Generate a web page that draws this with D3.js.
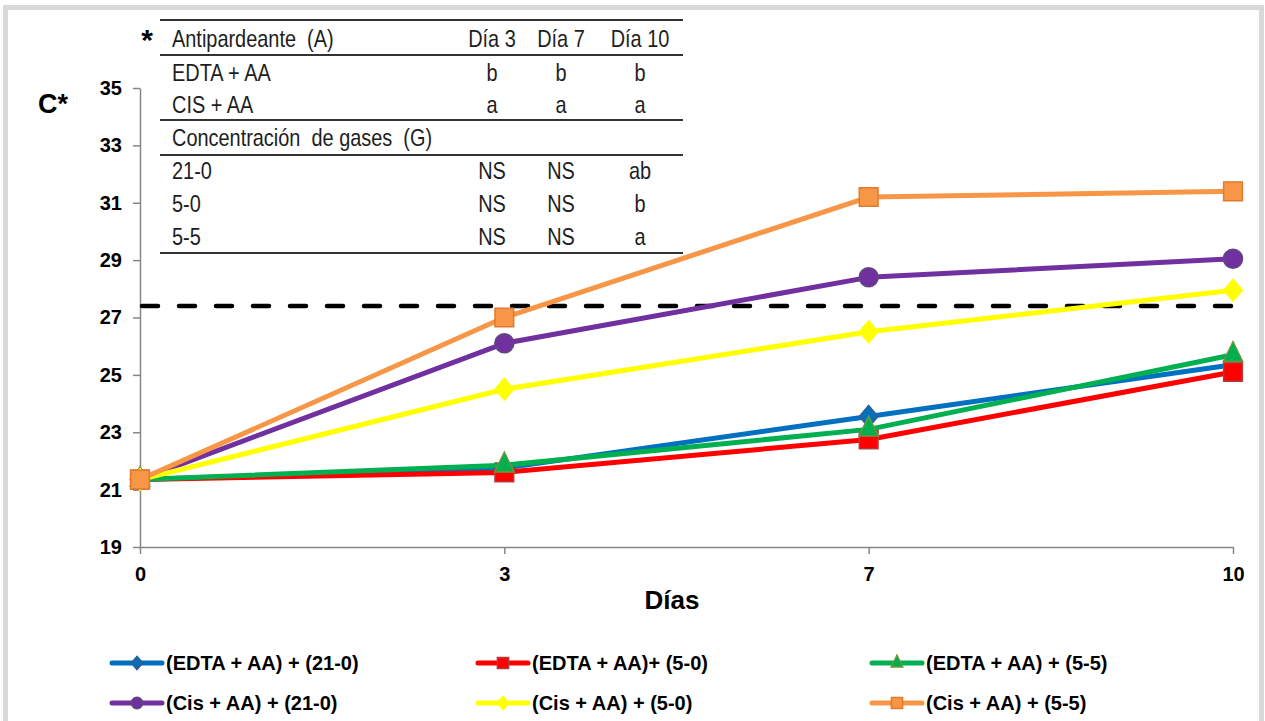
<!DOCTYPE html>
<html>
<head>
<meta charset="utf-8">
<script src="https://cdn.jsdelivr.net/npm/d3@7"></script>
<style>
  body { margin: 0; background: #fff; }
  svg { display: block; font-family: Arial, "Liberation Sans", sans-serif; }
</style>
</head>
<body>
<div id="chart"></div>
<script>
// categories (x axis) and y ticks
const days = ['0', '3', '7', '10'];
const yTicks = [19, 21, 23, 25, 27, 29, 31, 33, 35];
const refLine = 27.4;

// series values
const edta210 = [21.35, 21.75, 23.55, 25.35];
const edta50 = [21.35, 21.6, 22.75, 25.1];
const edta55 = [21.35, 21.85, 23.1, 25.7];
const cis210 = [21.35, 26.1, 28.4, 29.05];
const cis50 = [21.35, 24.5, 26.5, 27.95];
const cis55 = [21.35, 27.0, 31.2, 31.4];

const series = [
  { name: '(EDTA + AA) + (21-0)', values: edta210, color: '#0070c0', edge: '#2e5f99', sym: 'diamond' },
  { name: '(EDTA + AA)+ (5-0)', values: edta50, color: '#ff0000', edge: '#b23c3c', sym: 'square' },
  { name: '(EDTA + AA) + (5-5)', values: edta55, color: '#00b050', edge: '#77933c', sym: 'triangle' },
  { name: '(Cis + AA) + (21-0)', values: cis210, color: '#7030a0', edge: '#604a7b', sym: 'circle' },
  { name: '(Cis + AA) + (5-0)', values: cis50, color: '#ffff00', edge: '#ffff00', sym: 'diamond' },
  { name: '(Cis + AA) + (5-5)', values: cis55, color: '#f79646', edge: '#e07b2c', sym: 'square' }
];

// significance table
const tableHead = ['Antipardeante  (A)', 'Día 3', 'Día 7', 'Día 10'];
const tableRowsA = [['EDTA + AA', 'b', 'b', 'b'], ['CIS + AA', 'a', 'a', 'a']];
const tableTitleG = 'Concentración  de gases  (G)';
const tableRowsG = [['21-0', 'NS', 'NS', 'ab'], ['5-0', 'NS', 'NS', 'b'], ['5-5', 'NS', 'NS', 'a']];

const W = 1265, H = 721;
const svg = d3.select('#chart').append('svg').attr('width', W).attr('height', H);

// outer frame
svg.append('rect').attr('x', 5.5).attr('y', 7.5).attr('width', 1256).attr('height', 718)
  .attr('fill', 'none').attr('stroke', '#d9d9d9').attr('stroke-width', 5);

const plot = { left: 140, right: 1233, top: 88, bottom: 547 };
const x = d3.scalePoint().domain(days).range([plot.left, plot.right]);
const y = d3.scaleLinear().domain([19, 35]).range([plot.bottom, plot.top]);

// y axis
const yAxis = svg.append('g').attr('transform', `translate(${plot.left},0)`)
  .call(d3.axisLeft(y).tickValues(yTicks).tickSize(7).tickPadding(11).tickSizeOuter(0));
yAxis.attr('font-size', 20).attr('font-family', null);
yAxis.select('.domain').attr('stroke', '#868686').attr('stroke-width', 1.5);
yAxis.selectAll('.tick line').attr('stroke', '#868686').attr('stroke-width', 1.5);
yAxis.selectAll('.tick text').attr('font-weight', 'bold').attr('fill', '#000');

// x axis
const xAxis = svg.append('g').attr('transform', `translate(0,${plot.bottom})`)
  .call(d3.axisBottom(x).tickSize(7).tickPadding(13).tickSizeOuter(0));
xAxis.attr('font-size', 20).attr('font-family', null);
xAxis.select('.domain').attr('stroke', '#868686').attr('stroke-width', 1.5);
xAxis.selectAll('.tick line').attr('stroke', '#868686').attr('stroke-width', 1.5);
xAxis.selectAll('.tick text').attr('font-weight', 'bold').attr('fill', '#000');

// axis titles
svg.append('text').attr('x', 38).attr('y', 113).attr('font-size', 27).attr('font-weight', 'bold').text('C*');
svg.append('text').attr('x', 672).attr('y', 609).attr('text-anchor', 'middle')
  .attr('font-size', 26).attr('font-weight', 'bold').text('Días');

// reference dashed line
svg.append('line').attr('x1', plot.left + 2).attr('x2', 1238)
  .attr('y1', y(refLine)).attr('y2', y(refLine))
  .attr('stroke', '#000').attr('stroke-width', 4.5).attr('stroke-dasharray', '16,21').attr('stroke-linecap', 'round');

// significance table (narrow font imitated by a horizontal squeeze)
const tb = svg.append('g').attr('fill', '#1e1e1e').attr('font-size', 24);
const tx0 = 160, tx1 = 683;
const colX = [172, 492, 561, 640];
const rowY = [38, 72, 104, 137, 170, 203, 236];
const hLines = [20, 55, 120, 155, 253];
hLines.forEach(yy => tb.append('line').attr('x1', tx0).attr('x2', tx1).attr('y1', yy).attr('y2', yy)
  .attr('stroke', '#333').attr('stroke-width', 2.2));
svg.append('text').attr('x', 147).attr('y', rowY[0] + 12).attr('text-anchor', 'middle')
  .attr('font-size', 30).attr('font-weight', 'bold').text('*');
const allRows = [tableHead, ...tableRowsA, [tableTitleG], ...tableRowsG];
allRows.forEach((row, i) => {
  row.forEach((cell, j) => {
    tb.append('text').attr('transform', `translate(${colX[j]},${rowY[i] + 9}) scale(0.83,1)`)
      .attr('text-anchor', j === 0 ? 'start' : 'middle')
      .style('white-space', 'pre').text(cell);
  });
});

// lines and markers
const line = d3.line().x((d, i) => x(days[i])).y(d => y(d));
const symType = { diamond: d3.symbolDiamond, square: d3.symbolSquare, triangle: d3.symbolTriangle, circle: d3.symbolCircle };
const symSize = { diamond: 130, square: 350, triangle: 230, circle: 285 };

function marker(g, s, cx, cy, k) {
  let tr = `translate(${cx},${cy})`;
  if (s.sym === 'diamond') tr += ' scale(1.48,1)';
  if (s.sym === 'triangle') tr += ' scale(0.85,1)';
  g.append('path')
    .attr('d', d3.symbol().type(symType[s.sym]).size(symSize[s.sym] * k * k)())
    .attr('transform', tr)
    .attr('fill', s.color).attr('stroke', s.edge).attr('stroke-width', 1.5);
}

series.forEach(s => {
  const g = svg.append('g');
  g.append('path').datum(s.values).attr('d', line).attr('fill', 'none')
    .attr('stroke', s.color).attr('stroke-width', 5).attr('stroke-linejoin', 'round');
  s.values.forEach((v, i) => marker(g, s, x(days[i]), y(v), 1));
});

// legend
const legCols = [112, 478, 872];
const legRows = [663, 703];
series.forEach((s, i) => {
  const lx = legCols[i % 3], ly = legRows[Math.floor(i / 3)];
  const g = svg.append('g');
  g.append('line').attr('x1', lx).attr('x2', lx + 50).attr('y1', ly).attr('y2', ly)
    .attr('stroke', s.color).attr('stroke-width', 5).attr('stroke-linecap', 'round');
  marker(g, s, lx + 25, ly, 0.6);
  g.append('text').attr('x', lx + 54).attr('y', ly + 7).attr('font-size', 20).attr('font-weight', 'bold')
    .style('white-space', 'pre').text(s.name);
});
</script>
</body>
</html>
